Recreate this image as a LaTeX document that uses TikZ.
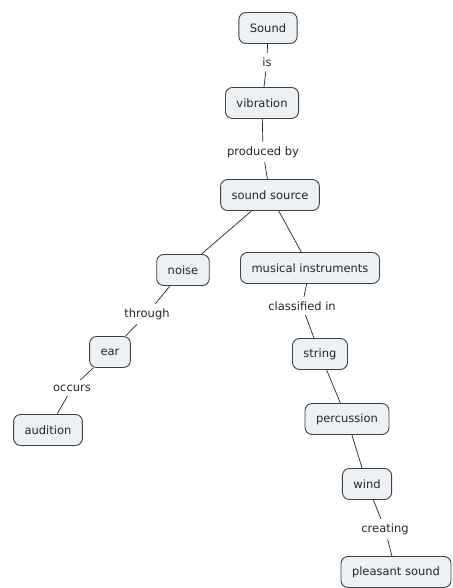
\documentclass[tikz,border=0pt]{standalone}
\usepackage{fontspec}
\setmainfont{DejaVu Sans}
\begin{document}
\begin{tikzpicture}[x=1pt,y=-1pt,
  concept/.style={draw=black!75,line width=0.9pt,fill=nodefill,rounded corners=7pt,
    minimum height=31pt,inner xsep=11pt,font=\fontsize{11.5}{13}\selectfont,text=black!85},
  lbl/.style={inner sep=4.5pt,font=\fontsize{11.5}{13}\selectfont,text=black!85},
  link/.style={draw=black!85,line width=0.7pt}]
\definecolor{nodefill}{HTML}{EBF1F4}
\useasboundingbox (0,0) rectangle (452,588);
\node[concept] (sound) at (268,28) {Sound};
\node[lbl] (is) at (267,62) {is};
\node[concept] (vib) at (262,103) {vibration};
\node[lbl] (prod) at (263,152) {produced by};
\node[concept] (src) at (270,195) {sound source};
\node[concept] (noise) at (183,270) {noise};
\node[lbl] (through) at (147,314) {through};
\node[concept] (ear) at (110,352) {ear};
\node[lbl] (occurs) at (72,388) {occurs};
\node[concept] (aud) at (48,430) {audition};
\node[concept] (mus) at (310,268) {musical instruments};
\node[lbl] (class) at (302,306) {classified in};
\node[concept] (string) at (320,354) {string};
\node[concept] (perc) at (347,419) {percussion};
\node[concept] (wind) at (367,484) {wind};
\node[lbl] (creat) at (385,529) {creating};
\node[concept] (pleas) at (396,572) {pleasant sound};
\draw[link] (sound) -- (is);
\draw[link] (is) -- (vib);
\draw[link] (vib) -- (prod);
\draw[link] (prod) -- (src);
\draw[link] (src) -- (noise);
\draw[link] (src) -- (mus);
\draw[link] (noise) -- (through);
\draw[link] (through) -- (ear);
\draw[link] (ear) -- (occurs);
\draw[link] (occurs) -- (aud);
\draw[link] (mus) -- (class);
\draw[link] (class) -- (string);
\draw[link] (string) -- (perc);
\draw[link] (perc) -- (wind);
\draw[link] (wind) -- (creat);
\draw[link] (creat) -- (pleas);
\end{tikzpicture}
\end{document}
